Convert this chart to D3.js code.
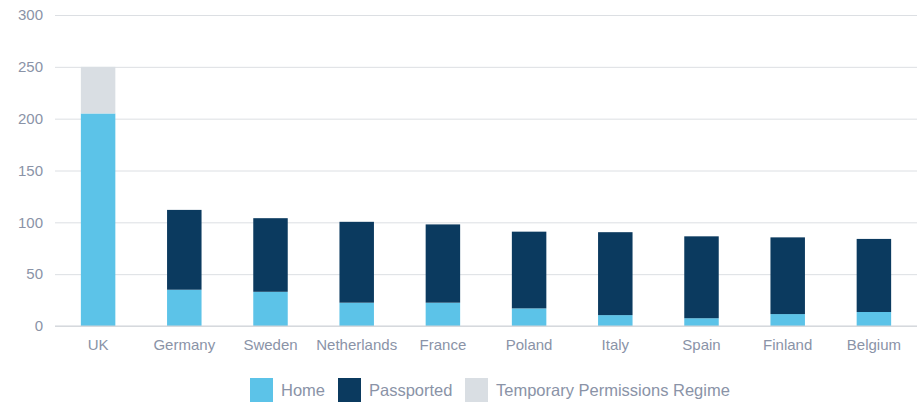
<!DOCTYPE html>
<html><head>
<meta charset="utf-8">
<script src="https://d3js.org/d3.v7.min.js"></script>
<style>
body { margin: 0; background: #fff; font-family: "Liberation Sans", Arial, sans-serif; }
.tick text { fill: #8a93a7; font-size: 15px; }
</style>
</head>
<body>
<svg id="chart" width="924" height="407"></svg>
<script>
const countries = ["UK", "Germany", "Sweden", "Netherlands", "France", "Poland", "Italy", "Spain", "Finland", "Belgium"];
const home = [205, 35, 33, 22.5, 22.5, 17, 10.5, 7.5, 11.5, 13.5];
const passported = [0, 77, 71, 78, 75.5, 74, 80, 79, 74, 70.5];
const tpr = [45, 0, 0, 0, 0, 0, 0, 0, 0, 0];
const seriesNames = ["Home", "Passported", "Temporary Permissions Regime"];
const yTicks = [0, 50, 100, 150, 200, 250, 300];

const colors = ["#5cc3e8", "#0b3a5f", "#d9dee3"];

const svg = d3.select("#chart");
const margin = {top: 15, right: 7, bottom: 81, left: 55};
const width = 924 - margin.left - margin.right;
const height = 407 - margin.top - margin.bottom;
const g = svg.append("g").attr("transform", "translate(" + margin.left + "," + margin.top + ")");

const rows = countries.map((c, i) => ({country: c, Home: home[i], Passported: passported[i], "Temporary Permissions Regime": tpr[i]}));
const stacked = d3.stack().keys(seriesNames)(rows);

const x = d3.scaleBand().domain(countries).range([0, 862]).paddingInner(0.6).paddingOuter(0.3);
const y = d3.scaleLinear().domain([0, 300]).range([height, 0]);

// gridlines + y labels
g.append("g")
    .call(d3.axisLeft(y).tickValues(yTicks).tickSize(-width).tickPadding(12))
    .call(a => a.select(".domain").remove())
    .call(a => a.selectAll(".tick line").attr("stroke", "#dcdfe3"));

// bars
g.selectAll("g.series").data(stacked)
    .join("g")
    .attr("class", "series")
    .attr("fill", (d, i) => colors[i])
    .selectAll("rect").data(d => d)
    .join("rect")
    .attr("x", d => x(d.data.country))
    .attr("width", x.bandwidth())
    .attr("y", d => y(d[1]))
    .attr("height", d => y(d[0]) - y(d[1]));

// baseline
g.append("line").attr("x1", 0).attr("x2", width).attr("y1", y(0)).attr("y2", y(0))
    .attr("stroke", "#cfd3d8");

// x labels
g.append("g").attr("transform", "translate(0," + height + ")")
    .call(d3.axisBottom(x).tickSize(0).tickPadding(13))
    .call(a => a.select(".domain").remove());

// legend
const legendX = [250, 338, 465];
const legend = svg.append("g");
seriesNames.forEach((s, i) => {
    legend.append("rect").attr("x", legendX[i]).attr("y", 378).attr("width", 23).attr("height", 24).attr("fill", colors[i]);
    legend.append("text").attr("x", legendX[i] + 31).attr("y", 396)
        .attr("fill", "#8a93a7").style("font-size", "16.5px").text(s);
});
</script>
</body>
</html>
